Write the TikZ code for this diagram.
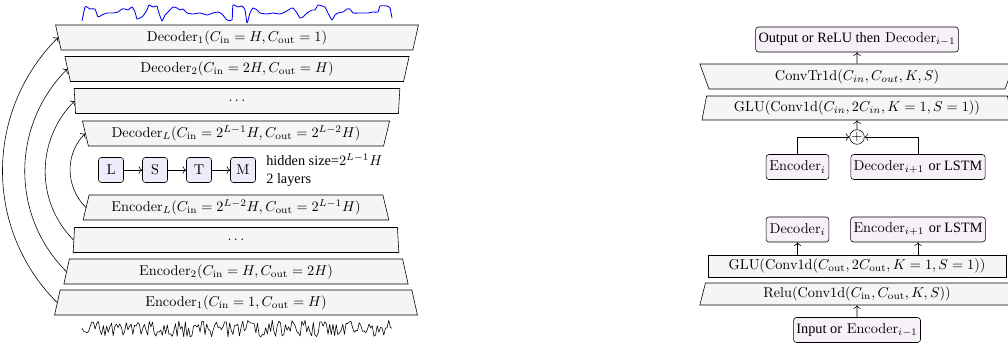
\documentclass[tikz,border=0pt]{standalone}
\usepackage{amsmath}
\usepackage{fontspec}
\newfontfamily\tmsfont{Liberation Serif}
\usetikzlibrary{shapes.geometric}
\usetikzlibrary{arrows.meta}

\definecolor{cellblue}{RGB}{236,236,250}
\definecolor{boxpink}{RGB}{248,240,248}
\definecolor{stagegray}{RGB}{245,245,245}

\begin{document}
\begin{tikzpicture}[x=0.7pt, y=0.7pt,
    encstage/.style={trapezium, draw, fill=stagegray, trapezium left angle=72,
      trapezium right angle=72, trapezium stretches body, minimum height=17.5pt, inner sep=1pt},
    decstage/.style={encstage, shape border rotate=180},
    cell/.style={draw, rounded corners=2pt, fill=cellblue, minimum size=17.5pt, inner sep=0pt},
    blk/.style={draw, rounded corners=2pt, fill=boxpink, minimum height=17.5pt, inner xsep=2pt, inner ysep=0pt}]
  \useasboundingbox (0,0) rectangle (1008,345);

  % left: the whole network
  \node[decstage, minimum width=254pt] (dec1) at (237,307.5) {$\text{Decoder}_1(C_\text{in}=H, C_\text{out}=1)$};
  \node[decstage, minimum width=241pt] (dec2) at (237,276) {$\text{Decoder}_2(C_\text{in}=2H, C_\text{out}=H)$};
  \node[decstage, minimum width=228pt] (decdots) at (237,244) {$\ldots$};
  \node[decstage, minimum width=215pt] (decL) at (236,211.5) {$\text{Decoder}_L(C_\text{in}=2^{L-1}H, C_\text{out}=2^{L-2}H)$};

  \node[cell] (l) at (111,175) {L};
  \node[cell] (s) at (155,175) {S};
  \node[cell] (t) at (199,175) {T};
  \node[cell] (m) at (243,175) {M};
  \node[anchor=west, align=left, inner sep=0pt, font=\tmsfont] (hid) at (266,175) {hidden size=$2^{L-1}H$\\2 layers};
  \draw[->] (l) -- (s);
  \draw[->] (s) -- (t);
  \draw[->] (t) -- (m);

  \node[encstage, minimum width=214pt] (encL) at (236,137.5) {$\text{Encoder}_L(C_\text{in}=2^{L-2}H, C_\text{out}=2^{L-1}H)$};
  \node[encstage, minimum width=228pt] (encdots) at (236,105) {$\ldots$};
  \node[encstage, minimum width=241pt] (enc2) at (236,73.5) {$\text{Encoder}_2(C_\text{in}=H, C_\text{out}=2H)$};
  \node[encstage, minimum width=254pt] (enc1) at (236,42.5) {$\text{Encoder}_1(C_\text{in}=1, C_\text{out}=H)$};

  \foreach \i in {1,2,dots,L}
    \draw[->] (enc\i.west) to[out=135, in=225] (dec\i.west);

  % signals
  \draw[blue, semithick, line join=round] plot[smooth, tension=0.3] coordinates {
    (82,324) (85,338) (87,338) (90,336) (95,336) (98,328) (102,330) (107,332) (113,332)
    (118,333) (122,336) (125,336) (128,335) (132,338) (135,333) (137,326) (140,327)
    (143,329) (147,335) (149,340) (153,338) (157,339) (158,335) (162,324) (165,330)
    (170,335) (173,338) (177,337) (180,335) (183,336) (187,332) (193,331) (200,332)
    (207,330) (213,332) (218,333) (222,331) (227,325) (232,325) (233,340) (238,338)
    (242,339) (245,335) (247,322) (250,332) (253,337) (257,335) (260,332) (267,331)
    (273,332) (280,331) (285,333) (290,336) (293,337) (297,332) (300,327) (303,328)
    (307,332) (312,335) (315,335) (318,340) (322,339) (325,338) (328,332) (332,325)
    (335,330) (338,332) (343,333) (347,336) (350,336) (353,332) (360,332) (365,332)
    (368,332) (373,333) (378,333) (380,339) (387,339) (390,337) (392,327)};
  \pgfmathsetseed{11}
  \draw[line join=round] plot[domain=82:392, samples=190] (\x, {16.5+8.5*rand});

  % right: decoder block
  \node[blk] (out) at (857,305.5) {{\tmsfont Output or ReLU then} $\text{Decoder}_{i-1}$};
  \node[encstage, shape border rotate=180, trapezium left angle=62, trapezium right angle=62,
    minimum width=220pt] (convtr) at (857,268.5) {ConvTr1d$(C_{in}, C_{out}, K, S)$};
  \node[encstage, trapezium left angle=75, trapezium right angle=75, minimum height=16.8pt,
    minimum width=217pt] (glud) at (857,237) {GLU(Conv1d$(C_{in}, 2C_{in}, K=1, S=1)$)};
  \node[circle, draw, inner sep=0pt, minimum size=10pt] (sum) at (857,208) {$+$};
  \node[blk, minimum width=44pt] (enci) at (797.5,178) {$\text{Encoder}_i$};
  \node[blk, minimum width=91pt] (decn) at (918,178) {$\text{Decoder}_{i+1}$ {\tmsfont or LSTM}};
  \draw[->] (convtr) -- (out);
  \draw[->] (sum) -- (glud);
  \draw[->] (enci.north) |- (sum.west);
  \draw[->] (decn.north) |- (sum.east);

  % right: encoder block
  \node[blk, minimum width=44pt] (deci) at (797.5,115.5) {$\text{Decoder}_i$};
  \node[blk, minimum width=91pt] (encn) at (918,115.5) {$\text{Encoder}_{i+1}$ {\tmsfont or LSTM}};
  \node[draw, fill=stagegray, minimum width=208.6pt, minimum height=15.4pt, inner sep=1pt] (glue) at (857,79)
    {GLU(Conv1d$(C_\text{out}, 2C_\text{out}, K=1, S=1)$)};
  \node[encstage, minimum height=15.4pt, minimum width=220pt] (relu) at (857,51)
    {Relu(Conv1d$(C_\text{in}, C_\text{out}, K, S)$)};
  \node[blk] (inp) at (857,15) {{\tmsfont Input or} $\text{Encoder}_{i-1}$};
  \draw[->] (glue.north -| deci) -- (deci);
  \draw[->] (glue.north -| encn) -- (encn);
  \draw[->] (inp) -- (relu);
\end{tikzpicture}
\end{document}
